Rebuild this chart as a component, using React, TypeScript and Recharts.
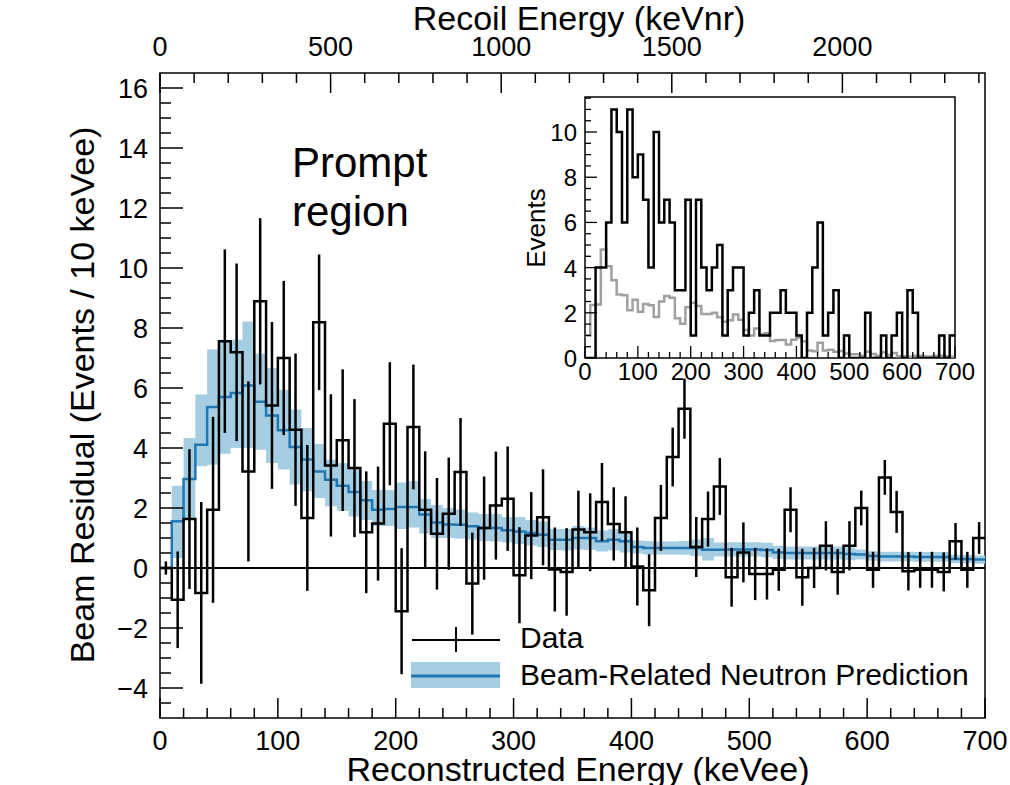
import React from 'react';
import {
  ComposedChart,
  Line,
  Area,
  Scatter,
  ErrorBar,
  XAxis,
  YAxis,
  ReferenceLine,
  ReferenceArea,
  Legend,
} from 'recharts';

const FONT = '"Liberation Sans", Arial, Helvetica, sans-serif';
const BAND = '#a6cee3';
const BLUE = '#1f78b4';

// 70 bins of 10 keVee, 0-700 keVee
const residual = [
  0, -1.06, 1.63, -0.83, 1.94, 7.56, 7.19, 3.22, 8.89, 5.42,
  7.0, 4.61, 1.67, 8.19, 3.42, 4.26, 3.33, 1.19, 1.48, 4.81,
  -1.44, 4.7, 1.94, 1.14, 1.81, 3.2, -0.52, 1.33, 2.08, 2.31,
  -0.24, 1.08, 1.69, -0.05, -0.13, 1.28, 1.19, 2.2, 1.47, 1.19,
  0.05, -0.74, 1.67, 3.7, 5.31, 0.7, 1.63, 2.72, -0.31, 0.52,
  -0.2, -0.2, -0.06, 1.94, -0.31, 0.0, 0.74, -0.13, 0.74, 2.0,
  -0.06, 3.02, 1.87, -0.11, -0.06, -0.06, -0.13, 0.89, -0.06, 1.0,
];

const residualErr = [
  0.22, 1.61, 2.33, 3.03, 3.1, 3.06, 2.96, 3.0, 2.77, 2.78,
  2.57, 2.54, 2.43, 2.26, 2.37, 2.36, 2.3, 2.03, 1.9, 2.05,
  2.1, 2.08, 1.95, 1.86, 1.87, 1.8, 1.7, 1.72, 1.8, 1.74,
  1.6, 1.45, 1.6, 1.4, 1.46, 1.3, 1.3, 1.3, 1.22, 1.2,
  1.3, 1.2, 1.1, 0.98, 1.0, 1.0, 0.92, 0.95, 0.98, 1.0,
  0.87, 0.85, 0.7, 0.75, 0.95, 0.67, 0.82, 0.76, 0.82, 0.58,
  0.6, 0.58, 0.7, 0.64, 0.6, 0.6, 0.65, 0.61, 0.6, 0.53,
];

const prediction = [
  0, 1.56, 2.97, 4.11, 5.37, 5.7, 5.83, 6.08, 5.54, 5.08,
  4.59, 4.03, 3.62, 3.22, 2.94, 2.74, 2.53, 2.26, 1.94, 1.97,
  2.03, 2.03, 1.78, 1.52, 1.45, 1.44, 1.39, 1.33, 1.33, 1.26,
  1.22, 1.17, 1.11, 0.94, 0.94, 1.0, 1.0, 0.89, 0.94, 0.89,
  0.7, 0.67, 0.67, 0.67, 0.67, 0.67, 0.61, 0.61, 0.62, 0.62,
  0.62, 0.6, 0.52, 0.5, 0.5, 0.5, 0.5, 0.5, 0.47, 0.45,
  0.4, 0.38, 0.38, 0.38, 0.37, 0.37, 0.37, 0.3, 0.3, 0.28,
];

const predLow = [
  null, 0.33, 1.67, 3.39, 3.44, 3.81, 4.0, 4.0, 3.94, 3.5,
  3.28, 2.78, 2.56, 2.33, 2.06, 1.9, 1.72, 1.6, 1.4, 1.4,
  1.3, 1.35, 1.15, 1.0, 1.0, 0.98, 0.95, 0.9, 0.88, 0.85,
  0.8, 0.75, 0.7, 0.6, 0.58, 0.62, 0.6, 0.55, 0.58, 0.52,
  0.48, 0.45, 0.45, 0.45, 0.44, 0.4, 0.25, 0.38, 0.38, 0.38,
  0.38, 0.36, 0.3, 0.28, 0.28, 0.28, 0.28, 0.28, 0.26, 0.28,
  0.24, 0.22, 0.22, 0.22, 0.21, 0.21, 0.21, 0.16, 0.16, 0.14,
];

const predHigh = [
  null, 2.74, 4.33, 5.78, 7.28, 7.61, 7.61, 8.22, 7.14, 6.67,
  5.94, 5.28, 4.67, 4.13, 3.61, 3.5, 3.3, 2.9, 2.6, 2.6,
  2.85, 2.9, 2.3, 2.1, 2.0, 1.95, 1.85, 1.8, 1.8, 1.7,
  1.7, 1.6, 1.55, 1.3, 1.3, 1.4, 1.35, 1.25, 1.3, 1.2,
  0.92, 0.9, 0.88, 0.88, 0.9, 0.95, 1.0, 0.85, 0.86, 0.86,
  0.86, 0.84, 0.74, 0.72, 0.72, 0.72, 0.72, 0.72, 0.68, 0.62,
  0.56, 0.54, 0.54, 0.54, 0.53, 0.53, 0.53, 0.44, 0.44, 0.42,
];

// inset: raw events and steady-state background, same binning
const insetEvents = [
  0, 0, 4, 4, 6, 11, 10, 6, 11, 8,
  9, 7, 4, 10, 6, 7, 6, 3, 3, 7,
  1, 7, 4, 3, 4, 5, 1, 3, 4, 4,
  1, 2, 3, 1, 1, 2, 2, 3, 2, 2,
  1, 0, 2, 4, 6, 1, 2, 3, 0, 1,
  0, 0, 0, 2, 0, 0, 1, 0, 1, 2,
  0, 3, 2, 0, 0, 0, 0, 1, 0, 1,
];

const insetBkg = [
  1.0, 2.35, 2.37, 4.8, 4.06, 3.44, 2.81, 2.78, 2.11, 2.58,
  2.05, 2.39, 2.33, 1.81, 2.5, 2.74, 2.67, 1.76, 1.52, 2.25,
  2.44, 2.3, 1.95, 1.95, 2.0, 1.8, 1.6, 1.67, 1.92, 1.69,
  1.24, 1.0, 1.31, 1.05, 1.1, 0.75, 0.8, 0.8, 0.6, 0.81,
  0.9, 0.74, 0.33, 0.3, 0.68, 0.33, 0.37, 0.28, 0.31, 0.2,
  0.17, 0.17, 0.1, 0.28, 0.18, 0.1, 0.26, 0.13, 0.22, 0.08,
  0.08, 0.06, 0.1, 0.1, 0.07, 0.07, 0.1, 0.1, 0.08, 0.06,
];

const X_TICKS = Array.from({ length: 36 }, (_, i) => i * 20);
const Y_TICKS = Array.from({ length: 42 }, (_, i) => -4.5 + i * 0.5);
const NR_TICKS = Array.from({ length: 25 }, (_, i) => i * 100);
const INSET_X_TICKS = Array.from({ length: 36 }, (_, i) => i * 20);
const INSET_Y_TICKS = Array.from({ length: 24 }, (_, i) => i * 0.5);

// top axis: keVnr that lines up with 700 keVee
const NR_MAX = 2418;
const NR_PER_KEVEE = NR_MAX / 700;

const stepRows = Array.from({ length: 71 }, (_, i) => {
  const j = Math.min(i, 69);
  return {
    x: i * 10,
    nr: i * 10 * NR_PER_KEVEE,
    residual: residual[j],
    prediction: prediction[j],
    band: predLow[j] === null ? null : [predLow[j], predHigh[j]],
  };
});

const centerRows = residual.map((v, i) => ({ x: i * 10 + 5, residual: v, err: residualErr[i] }));

const insetRows = Array.from({ length: 71 }, (_, i) => {
  const j = Math.min(i, 69);
  return { x: i * 10, events: insetEvents[j], bkg: insetBkg[j] };
});

const isMult = (v: number, m: number) => Math.abs(v / m - Math.round(v / m)) < 1e-6;
const fmt = (v: number) => (v < 0 ? `\u2212${Math.abs(v)}` : `${v}`);

const BottomTick = ({ x, y, payload }: any) => {
  const major = isMult(payload.value, 100);
  return (
    <g>
      <line x1={x} x2={x} y1={y} y2={y - (major ? 20 : 10)} stroke="#000" strokeWidth={1.5} />
      {major && (
        <text x={x} y={y + 32} textAnchor="middle" fontSize={27} fill="#000">
          {payload.value}
        </text>
      )}
    </g>
  );
};

const TopTick = ({ x, y, payload }: any) => {
  const major = isMult(payload.value, 500);
  return (
    <g>
      <line x1={x} x2={x} y1={y} y2={y + (major ? 20 : 10)} stroke="#000" strokeWidth={1.5} />
      {major && (
        <text x={x} y={y - 17} textAnchor="middle" fontSize={27} fill="#000">
          {payload.value}
        </text>
      )}
    </g>
  );
};

const LeftTick = ({ x, y, payload }: any) => {
  const major = isMult(payload.value, 2);
  return (
    <g>
      <line x1={x} x2={x + (major ? 23 : 11)} y1={y} y2={y} stroke="#000" strokeWidth={1.5} />
      {major && (
        <text x={x - 12} y={y + 10} textAnchor="end" fontSize={27} fill="#000">
          {fmt(payload.value)}
        </text>
      )}
    </g>
  );
};

const InsetBottomTick = ({ x, y, payload }: any) => {
  const major = isMult(payload.value, 100);
  return (
    <g>
      <line x1={x} x2={x} y1={y} y2={y - (major ? 12 : 6)} stroke="#000" strokeWidth={1.3} />
      {major && (
        <text x={x} y={y + 22} textAnchor="middle" fontSize={24} fill="#000">
          {payload.value}
        </text>
      )}
    </g>
  );
};

const InsetLeftTick = ({ x, y, payload }: any) => {
  const major = isMult(payload.value, 2);
  return (
    <g>
      <line x1={x} x2={x + (major ? 12 : 6)} y1={y} y2={y} stroke="#000" strokeWidth={1.3} />
      {major && (
        <text x={x - 8} y={y + 9} textAnchor="end" fontSize={24} fill="#000">
          {payload.value}
        </text>
      )}
    </g>
  );
};

const LegendBox = () => (
  <svg width={590} height={80} style={{ overflow: 'visible', fontFamily: FONT }}>
    <line x1={7} x2={95} y1={25} y2={25} stroke="#000" strokeWidth={2} />
    <line x1={51} x2={51} y1={12} y2={37} stroke="#000" strokeWidth={2} />
    <text x={115} y={33} fontSize={30} fill="#000">Data</text>
    <rect x={6} y={47} width={89} height={26} fill={BAND} />
    <line x1={6} x2={95} y1={61} y2={61} stroke={BLUE} strokeWidth={3} />
    <text x={115} y={70} fontSize={30} fill="#000">Beam-Related Neutron Prediction</text>
  </svg>
);

export default function App() {
  return (
    <div
      style={{
        position: 'absolute',
        left: 0,
        top: 0,
        width: 1010,
        height: 785,
        background: '#fff',
        fontFamily: FONT,
        overflow: 'hidden',
      }}
    >
      <ComposedChart
        width={1010}
        height={785}
        data={stepRows}
        margin={{ top: 72, right: 25, bottom: 66, left: 159 }}
      >
        <XAxis
          xAxisId="keVee"
          dataKey="x"
          type="number"
          domain={[0, 700]}
          ticks={X_TICKS}
          interval={0}
          tick={BottomTick}
          tickSize={0}
          tickMargin={0}
          height={1}
          axisLine={false}
          tickLine={false}
          allowDataOverflow
        />
        <XAxis
          xAxisId="keVnr"
          dataKey="nr"
          orientation="top"
          type="number"
          domain={[0, NR_MAX]}
          ticks={NR_TICKS}
          interval={0}
          tick={TopTick}
          tickSize={0}
          tickMargin={0}
          height={1}
          axisLine={false}
          tickLine={false}
          allowDataOverflow
        />
        <YAxis
          yAxisId="res"
          type="number"
          domain={[-5, 16.5]}
          ticks={Y_TICKS}
          interval={0}
          tick={LeftTick}
          tickSize={0}
          tickMargin={0}
          width={1}
          axisLine={false}
          tickLine={false}
          allowDataOverflow
        />
        <ReferenceArea
          xAxisId="keVee"
          yAxisId="res"
          x1={0}
          x2={700}
          y1={-5}
          y2={16.5}
          fill="none"
          stroke="#000"
          strokeWidth={1.5}
          ifOverflow="visible"
        />
        {/* invisible series that ties the keVnr axis to the same rows */}
        <Line
          xAxisId="keVnr"
          yAxisId="res"
          dataKey="prediction"
          stroke="none"
          dot={false}
          activeDot={false}
          legendType="none"
          isAnimationActive={false}
        />
        <Area
          xAxisId="keVee"
          yAxisId="res"
          dataKey="band"
          type="stepAfter"
          stroke="none"
          fill={BAND}
          fillOpacity={1}
          isAnimationActive={false}
        />
        <Line
          xAxisId="keVee"
          yAxisId="res"
          dataKey="prediction"
          type="stepAfter"
          stroke={BLUE}
          strokeWidth={2.5}
          dot={false}
          isAnimationActive={false}
        />
        <ReferenceLine xAxisId="keVee" yAxisId="res" y={0} stroke="#000" strokeWidth={2} />
        <Line
          xAxisId="keVee"
          yAxisId="res"
          dataKey="residual"
          type="stepAfter"
          stroke="#000"
          strokeWidth={2.5}
          dot={false}
          isAnimationActive={false}
        />
        <Scatter
          xAxisId="keVee"
          yAxisId="res"
          data={centerRows}
          dataKey="residual"
          shape={() => <g />}
          isAnimationActive={false}
        >
          <ErrorBar dataKey="err" direction="y" width={0} stroke="#000" strokeWidth={2.5} isAnimationActive={false} />
        </Scatter>
        <Legend
          layout="vertical"
          align="center"
          verticalAlign="middle"
          wrapperStyle={{ position: 'absolute', left: 405, top: 615, width: 590, height: 80 }}
          content={() => <LegendBox />}
        />
      </ComposedChart>

      <div style={{ position: 'absolute', left: 500, top: 88 }}>
        <ComposedChart
          width={500}
          height={300}
          data={insetRows}
          margin={{ top: 9, right: 45, bottom: 29, left: 84 }}
        >
          <XAxis
            dataKey="x"
            type="number"
            domain={[0, 700]}
            ticks={INSET_X_TICKS}
            interval={0}
            tick={InsetBottomTick}
            tickSize={0}
            tickMargin={0}
            height={1}
            axisLine={false}
            tickLine={false}
            allowDataOverflow
          />
          <YAxis
            type="number"
            domain={[0, 11.55]}
            ticks={INSET_Y_TICKS}
            interval={0}
            tick={InsetLeftTick}
            tickSize={0}
            tickMargin={0}
            width={1}
            axisLine={false}
            tickLine={false}
            allowDataOverflow
          />
          <ReferenceArea
            x1={0}
            x2={700}
            y1={0}
            y2={11.55}
            fill="none"
            stroke="#000"
            strokeWidth={1.5}
            ifOverflow="visible"
          />
          <Line
            dataKey="bkg"
            type="stepAfter"
            stroke="#a0a0a0"
            strokeWidth={2.5}
            dot={false}
            isAnimationActive={false}
          />
          <Line
            dataKey="events"
            type="stepAfter"
            stroke="#000"
            strokeWidth={2.5}
            dot={false}
            isAnimationActive={false}
          />
        </ComposedChart>
      </div>

      <svg
        width={1010}
        height={785}
        style={{ position: 'absolute', left: 0, top: 0, pointerEvents: 'none', fontFamily: FONT }}
      >
        <text x={579} y={30} textAnchor="middle" fontSize={34} fill="#000">
          Recoil Energy (keVnr)
        </text>
        <text x={578} y={781} textAnchor="middle" fontSize={34} fill="#000">
          Reconstructed Energy (keVee)
        </text>
        <text
          x={94}
          y={395}
          textAnchor="middle"
          fontSize={34}
          fill="#000"
          transform="rotate(-90 94 395)"
        >
          Beam Residual (Events / 10 keVee)
        </text>
        <text x={292} y={177} fontSize={42} fill="#000">
          Prompt
        </text>
        <text x={292} y={226} fontSize={42} fill="#000">
          region
        </text>
        <text
          x={545}
          y={228}
          textAnchor="middle"
          fontSize={26}
          fill="#000"
          transform="rotate(-90 545 228)"
        >
          Events
        </text>
      </svg>
    </div>
  );
}
